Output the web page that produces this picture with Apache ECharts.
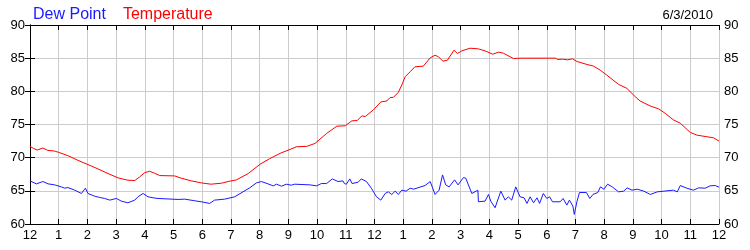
<!DOCTYPE html>
<html>
<head>
<meta charset="utf-8">
<script src="https://cdn.jsdelivr.net/npm/echarts@6/dist/echarts.min.js"></script>
<style>
html,body{margin:0;padding:0;background:#fff;}
#c{width:750px;height:250px;}
</style>
</head>
<body>
<div id="c"></div>
<script>
var hourLabels = ['12','1','2','3','4','5','6','7','8','9','10','11','12','1','2','3','4','5','6','7','8','9','10','11','12'];
var yTicks = [60, 65, 70, 75, 80, 85, 90];
var dateLabel = '6/3/2010';

var tempHours = [0.00,0.12,0.25,0.45,0.62,0.85,1.00,1.32,1.67,2.02,2.37,2.72,3.07,3.41,3.65,3.82,4.00,4.17,4.34,4.52,5.04,5.27,5.62,5.97,6.30,6.67,6.90,7.19,7.60,8.01,8.35,8.71,9.06,9.29,9.64,9.93,10.33,10.69,10.98,11.21,11.40,11.56,11.68,11.96,12.22,12.43,12.54,12.66,12.83,12.95,13.07,13.24,13.41,13.70,13.94,14.11,14.23,14.38,14.54,14.77,14.89,15.04,15.33,15.62,15.85,16.12,16.32,16.49,16.84,17.10,18.30,18.39,18.55,18.72,18.90,19.05,19.40,19.63,19.86,20.09,20.50,20.79,21.08,21.25,21.60,21.90,22.12,22.41,22.65,23.00,23.23,23.58,23.81,24.00];
var tempValues = [71.7,71.4,71.15,71.45,71.1,71.0,70.8,70.3,69.6,68.95,68.3,67.6,66.95,66.6,66.55,67.1,67.75,67.95,67.65,67.3,67.25,66.9,66.5,66.2,66.0,66.15,66.4,66.65,67.6,69.0,69.85,70.65,71.25,71.65,71.7,72.15,73.65,74.75,74.8,75.55,75.6,76.3,76.2,77.2,78.4,78.55,79.05,79.1,79.85,80.95,82.2,82.95,83.7,83.8,85.05,85.45,85.2,84.55,84.7,86.2,85.7,86.1,86.5,86.4,86.1,85.6,85.9,85.75,84.95,85.0,85.0,84.8,84.85,84.75,84.9,84.5,84.05,83.8,83.2,82.45,81.05,80.45,79.2,78.55,77.8,77.35,76.7,75.7,75.2,73.8,73.4,73.15,73.0,72.5];

var dewHours = [0.00,0.05,0.22,0.45,0.63,0.86,1.09,1.21,1.32,1.56,1.79,1.93,2.02,2.25,2.43,2.60,2.78,3.01,3.18,3.41,3.65,3.76,3.94,4.11,4.29,4.46,5.16,5.39,5.74,5.97,6.26,6.43,6.78,7.13,7.42,7.65,7.89,8.06,8.29,8.47,8.59,8.76,8.93,9.10,9.22,9.75,9.98,10.15,10.33,10.53,10.73,10.90,10.95,11.00,11.02,11.14,11.22,11.43,11.54,11.72,11.89,12.07,12.22,12.37,12.48,12.60,12.72,12.83,12.95,13.10,13.24,13.36,13.76,13.94,14.11,14.25,14.37,14.48,14.60,14.79,14.91,15.10,15.18,15.39,15.60,15.62,15.85,15.97,16.05,16.20,16.40,16.55,16.66,16.78,16.92,17.07,17.21,17.31,17.42,17.54,17.66,17.75,17.88,18.00,18.10,18.20,18.47,18.57,18.70,18.79,18.91,18.96,19.05,19.14,19.38,19.50,19.61,19.78,19.87,19.99,20.12,20.28,20.50,20.68,20.80,20.97,21.15,21.38,21.61,21.85,22.08,22.41,22.55,22.65,22.88,23.11,23.29,23.52,23.69,23.87,24.00];
var dewValues = [66.5,66.4,66.05,66.4,66.05,65.9,65.6,65.4,65.5,65.1,64.6,65.4,64.6,64.2,64.0,63.85,63.6,63.85,63.45,63.2,63.6,64.1,64.6,64.1,63.95,63.85,63.7,63.75,63.5,63.35,63.1,63.6,63.75,64.1,64.85,65.45,66.2,66.4,66.05,65.75,66.0,65.7,66.0,65.85,66.0,65.9,65.75,66.1,66.1,66.8,66.4,66.5,66.1,66.3,66.0,66.8,66.1,66.3,66.8,66.4,65.4,64.1,63.6,64.6,64.85,64.45,64.95,64.45,65.1,64.95,65.4,65.25,65.8,66.4,64.45,65.1,67.4,65.9,65.6,66.65,65.9,67.0,66.9,64.6,65.1,63.35,63.45,64.45,63.45,62.45,64.95,63.6,64.1,63.6,65.6,64.1,63.95,63.1,64.1,63.2,63.95,63.1,64.6,63.85,64.1,63.35,63.35,63.85,62.85,63.6,62.7,61.45,63.35,64.75,64.75,63.85,64.45,64.75,65.6,65.25,66.0,65.6,64.85,64.95,65.45,65.1,65.25,64.95,64.45,64.85,64.95,65.1,64.85,65.8,65.4,65.1,65.45,65.4,65.75,65.8,65.55];

function zip(xs, ys) { return xs.map(function (x, i) { return [x, ys[i]]; }); }

var FONT = '"Liberation Sans", Arial, sans-serif';
var chart = echarts.init(document.getElementById('c'), null, {renderer: 'canvas'});
var yAxisBase = {
  type: 'value', min: yTicks[0], max: yTicks[yTicks.length - 1], interval: 5,
  axisLine: {show: true, lineStyle: {color: '#000', width: 1}},
  axisTick: {show: true, inside: true, length: 5, lineStyle: {color: '#000'}},
  axisLabel: {color: '#000', fontSize: 13, fontFamily: FONT, margin: 5}
};
chart.setOption({
  animation: false,
  backgroundColor: '#fff',
  title: {
    text: dateLabel, right: 32, top: 4,
    textStyle: {color: '#000', fontSize: 13, fontWeight: 'normal', fontFamily: FONT}
  },
  legend: {
    left: 23, top: 2, icon: 'none', itemWidth: 0, itemHeight: 0, itemGap: 12,
    selectedMode: false,
    textStyle: {fontSize: 16, fontFamily: FONT},
    data: [
      {name: 'Dew Point', textStyle: {color: '#1a1aff'}},
      {name: 'Temperature', textStyle: {color: '#ff0000'}}
    ]
  },
  grid: {left: 30, right: 31, top: 25, bottom: 26, containLabel: false},
  xAxis: [{
    type: 'value', min: 0, max: 24, interval: 1, position: 'bottom',
    axisLine: {show: true, onZero: false, lineStyle: {color: '#000'}},
    axisTick: {show: true, inside: true, length: 5, lineStyle: {color: '#000'}},
    splitLine: {show: true, lineStyle: {color: '#cccccc', width: 1}},
    axisLabel: {color: '#000', fontSize: 13, fontFamily: FONT, margin: 5,
      formatter: function (v) { return hourLabels[Math.round(v)]; }}
  }, {
    type: 'value', min: 0, max: 24, interval: 1, position: 'top',
    axisLine: {show: true, onZero: false, lineStyle: {color: '#000'}},
    axisTick: {show: true, inside: true, length: 5, lineStyle: {color: '#000'}},
    splitLine: {show: false},
    axisLabel: {show: false}
  }],
  yAxis: [
    Object.assign({}, yAxisBase, {position: 'left', splitLine: {show: true, lineStyle: {color: '#cccccc', width: 1}}}),
    Object.assign({}, yAxisBase, {position: 'right', splitLine: {show: false}})
  ],
  series: [{
    name: 'Dew Point', type: 'line', showSymbol: false, symbol: 'none',
    data: zip(dewHours, dewValues),
    lineStyle: {color: '#1a1aff', width: 1}, itemStyle: {color: '#1a1aff'}
  }, {
    name: 'Temperature', type: 'line', showSymbol: false, symbol: 'none',
    data: zip(tempHours, tempValues),
    lineStyle: {color: '#ff0000', width: 1}, itemStyle: {color: '#ff0000'}
  }]
});
</script>
</body>
</html>
